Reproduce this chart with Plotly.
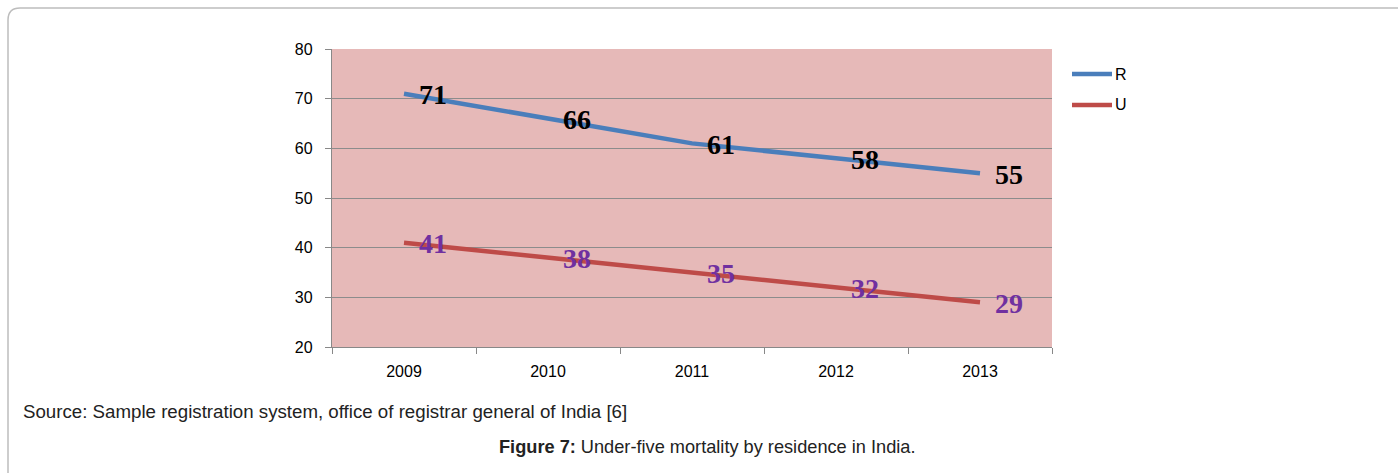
import plotly.graph_objects as go

# Under-five mortality (per 1000 live births) by residence
years = ["2009", "2010", "2011", "2012", "2013"]
rural = [71, 66, 61, 58, 55]
urban = [41, 38, 35, 32, 29]
series_names = ["R", "U"]
y_ticks = [20, 30, 40, 50, 60, 70, 80]

W, H = 1398, 473
L, R, T, B = 332, 1052, 49, 347  # plot area in pixels


def px(x):
    return (x - L) / (R - L)


def py(y):
    return (B - y) / (B - T)


fig = go.Figure()
line_colors = ["#4A7EBB", "#BE4B48"]
label_colors = ["#000000", "#7030A0"]

for name, vals, lc in zip(series_names, [rural, urban], line_colors):
    fig.add_trace(go.Scatter(
        x=years, y=vals, mode="lines", name=name,
        line=dict(color=lc, width=4.5), showlegend=False,
    ))

# value labels to the right of each point (category index on the x axis)
annotations = []
for vals, tc in zip([rural, urban], label_colors):
    for i, v in enumerate(vals):
        annotations.append(dict(
            x=i, y=v, xref="x", yref="y", text=str(v), showarrow=False,
            xshift=29, yshift=-1,
            font=dict(family="Liberation Serif", size=28, color=tc, weight="bold"),
        ))

# legend drawn as short line segments with labels
shapes = []
for i, (name, lc) in enumerate(zip(series_names, line_colors)):
    yy = 74 + i * 31
    shapes.append(dict(type="line", xref="paper", yref="paper",
                       x0=px(1072), x1=px(1112), y0=py(yy), y1=py(yy),
                       line=dict(color=lc, width=4.5)))
    annotations.append(dict(x=px(1113), y=py(yy), xref="paper", yref="paper",
                            text=name, showarrow=False, xanchor="left", yanchor="middle",
                            font=dict(family="Liberation Sans", size=16, color="#000")))

# outer frame with a rounded top-left corner
r = 12
path = (f"M {px(8)},{py(480)} L {px(8)},{py(8 + r)} "
        f"Q {px(8)},{py(8)} {px(8 + r)},{py(8)} L {px(1400)},{py(8)}")
shapes.append(dict(type="path", xref="paper", yref="paper", path=path,
                   line=dict(color="#BDBDBD", width=1.5)))

annotations.append(dict(
    x=px(21), y=py(411), xref="paper", yref="paper", xanchor="left", yanchor="middle",
    text="Source: Sample registration system, office of registrar general of India [6]",
    showarrow=False, font=dict(family="Liberation Sans", size=18.7, color="#222")))
annotations.append(dict(
    x=px(707), y=py(447), xref="paper", yref="paper", xanchor="center", yanchor="middle",
    text="<b>Figure 7:</b> Under-five mortality by residence in India.",
    showarrow=False, font=dict(family="Liberation Sans", size=18.2, color="#222")))

fig.update_layout(
    width=W, height=H,
    margin=dict(l=L, r=W - R, t=T, b=H - B, pad=0),
    paper_bgcolor="white", plot_bgcolor="#E6B9B8",
    showlegend=False,
    shapes=shapes, annotations=annotations,
    xaxis=dict(
        type="category", tickson="boundaries", ticks="outside", ticklen=6,
        tickcolor="#888888", tickwidth=1.3, showgrid=False,
        showline=True, linecolor="#888888", linewidth=1.3,
        tickfont=dict(family="Liberation Sans", size=16, color="#000"),
        ticklabelstandoff=10, range=[-0.5, 4.5],
    ),
    yaxis=dict(
        range=[20, 80], tickvals=y_ticks, ticks="outside", ticklen=6,
        tickcolor="#888888", tickwidth=1.3,
        showgrid=True, gridcolor="#8C8C8C", gridwidth=1.3,
        showline=True, linecolor="#888888", linewidth=1.3,
        zeroline=False,
        tickfont=dict(family="Liberation Sans", size=16, color="#000"),
        ticklabelstandoff=9,
    ),
)

fig.write_html("out.html")
